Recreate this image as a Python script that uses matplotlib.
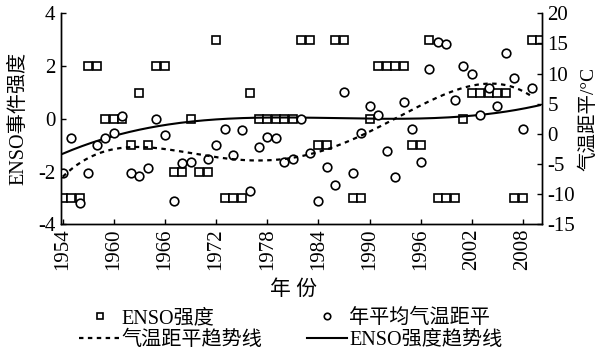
import numpy as np
import matplotlib
matplotlib.use("Agg")
import matplotlib.pyplot as plt

plt.rcParams['font.family'] = ['Liberation Serif', 'Noto Sans CJK SC']
plt.rcParams['axes.unicode_minus'] = False

# ENSO intensity per year (left axis)
enso_years = list(range(1954, 2011))
enso_strength = [-3, -3, -3, 2, 2, 0, 0, 0, -1, 1,
                 -1, 2, 2, -2, -2, 0, -2, -2, 3, -3,
                 -3, -3, 1, 0, 0, 0, 0, 0, 3, 3,
                 -1, -1, 3, 3, -3, -3, 0, 2, 2, 2,
                 2, -1, -1, 3, -3, -3, -3, 0, 1, 1,
                 1, 1, 1, -3, -3, 3, 3]

# annual mean temperature anomaly (right axis), 1970 not visible
temp_years = list(range(1954, 2010))
temp_anomaly = [-6.4, -0.7, -11.5, -6.5, -1.8, -0.7, 0.2, 3.0, -6.4, -7.0,
                -5.7, 2.5, -0.1, -11.1, -4.8, -4.6, np.nan, -4.1, -1.8, 0.8,
                -3.5, 0.7, -9.5, -2.1, -0.5, -0.7, -4.6, -4.2, 2.5, -3.1,
                -11.1, -5.4, -8.5, 6.9, -6.5, 0.1, 4.6, 3.1, -2.9, -7.1,
                5.3, 0.8, -4.6, 10.7, 15.3, 14.9, 5.6, 11.3, 10.0, 3.1,
                7.7, 4.6, 13.4, 9.3, 0.8, 7.7]

year_ticks = list(range(1954, 2009, 6))

# polynomial trend lines fitted to the data (as in the spreadsheet original)
ex = np.array(enso_years, dtype=float)
ey = np.array(enso_strength, dtype=float)
enso_fit = np.polynomial.Polynomial.fit(ex, ey, 3)
tx = np.array(temp_years, dtype=float)
ty = np.array(temp_anomaly, dtype=float)
ok = ~np.isnan(ty)
temp_fit = np.polynomial.Polynomial.fit(tx[ok], ty[ok], 4)
ex_s = np.linspace(ex.min(), ex.max(), 200)
tx_s = np.linspace(tx.min(), tx.max(), 200)

fig = plt.figure(figsize=(6, 3.51), dpi=100)
ax = fig.add_axes([0.1017, 0.3604, 0.8012, 0.6017])
ax2 = ax.twinx()

sq, = ax.plot(enso_years, enso_strength, 's', ms=5.8, mfc='white', mec='black',
              mew=1.2, ls='none', label='ENSO强度')
solid, = ax.plot(ex_s, enso_fit(ex_s), color='black', lw=1.5, label='ENSO强度趋势线')
circ, = ax2.plot(temp_years, temp_anomaly, 'o', ms=6.2, mfc='white', mec='black',
                 mew=1.2, ls='none', label='年平均气温距平')
dot, = ax2.plot(tx_s, temp_fit(tx_s), color='black', lw=1.6, ls=(0, (2, 2)),
                label='气温距平趋势线')

ax.set_xlim(1953.8, 2010.2)
ax.set_ylim(-4, 4)
ax2.set_ylim(-15, 20)
ax.set_xticks(year_ticks)
ax.set_xticklabels([str(y) for y in year_ticks], rotation=90)
ax.set_yticks([-4, -2, 0, 2, 4])
ax2.set_yticks(list(range(-15, 21, 5)))

for a in (ax, ax2):
    a.spines['top'].set_visible(False)
    for s in a.spines.values():
        s.set_linewidth(1.0)
    a.tick_params(direction='in', length=3.5, width=1.0, labelsize=15, pad=4)
ax.tick_params(axis='x', pad=3)

ax.set_ylabel('ENSO事件强度', fontsize=14.5, labelpad=7)
ax2.set_ylabel('气温距平/°C', fontsize=14, labelpad=3)
ax.set_xlabel('年 份', fontsize=15)
ax.xaxis.set_label_coords(0.483, -0.265)

fig.legend([sq, dot, circ, solid],
           ['ENSO强度', '气温距平趋势线', '年平均气温距平', 'ENSO强度趋势线'],
           loc='upper center', bbox_to_anchor=(0.485, 0.148), ncol=2, frameon=False,
           fontsize=14.5, handlelength=2.0, handletextpad=0.1, columnspacing=2.2,
           labelspacing=0.12, borderpad=0, markerscale=0.75)

fig.savefig('out.png', dpi=100)
